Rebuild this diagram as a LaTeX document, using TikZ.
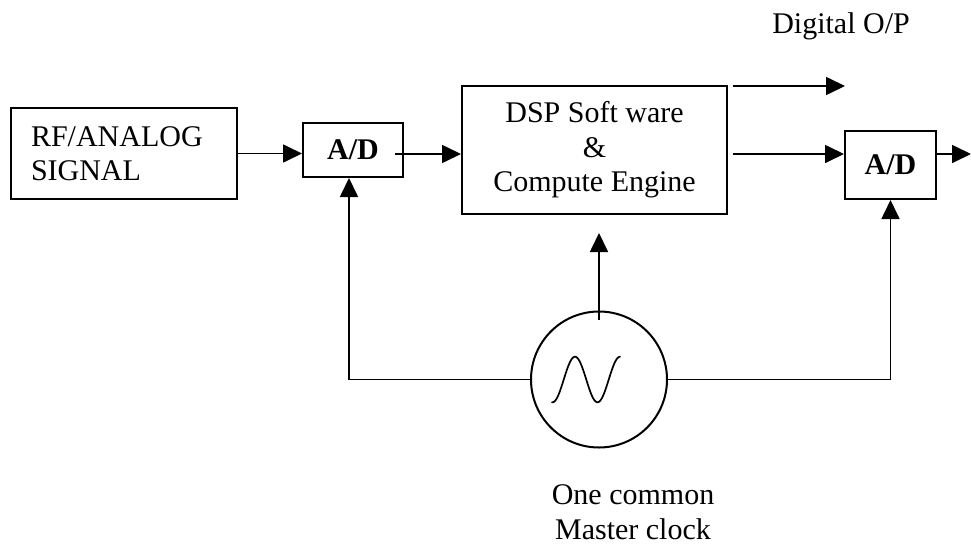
\documentclass[tikz,border=0pt]{standalone}
\usepackage{fontspec}
\setmainfont{Liberation Serif}
\usetikzlibrary{arrows.meta,calc}
\tikzset{
  box/.style={draw, line width=2pt, inner sep=0pt},
  wire/.style={line width=1.7pt},
  arr/.style={line width=1.7pt, -{Triangle[length=19pt,width=18pt]}},
  txt/.style={font=\fontsize{30}{34.5}\selectfont}
}
\begin{document}
\begin{tikzpicture}[x=1pt,y=-1pt]
\useasboundingbox (0,0) rectangle (971,546);
% blocks
\node[box, txt, minimum width=226, minimum height=91, text width=186, inner xsep=20pt, align=left] (rf) at (124,153.5) {RF/ANALOG\\SIGNAL};
\node[box, txt, font=\fontsize{30}{34.5}\selectfont\bfseries, minimum width=100, minimum height=54] (ad1) at (353,150) {A/D};
\node[box, txt, minimum width=265, minimum height=128, align=center] (dsp) at (594.5,150) {DSP Soft ware\\\&\\Compute Engine};
\node[box, txt, font=\fontsize{30}{34.5}\selectfont\bfseries, minimum width=91, minimum height=68] (ad2) at (890.5,165) {A/D};
\node[draw, line width=2pt, circle, minimum size=136, inner sep=0pt] (clk) at (599,379.5) {};
% labels
\node[txt, anchor=base] (dig) at (841,33) {Digital O/P};
\node[txt, align=center] (clklbl) at (633,512) {One common\\Master clock};
% sine symbol
\draw[wire, line cap=round, shift={(clk.center)}] plot[domain=-47:21, samples=80, smooth] (\x, {-22.8*cos(180*(\x+24)/22.5)});
% coordinates for free ends
\coordinate (ad1o) at (395,154);
\coordinate (d1) at (733,86);
\coordinate (d1e) at (845,86);
\coordinate (d2) at (733,154);
\coordinate (out) at (971,154);
\coordinate (ad1in) at ([xshift=-4pt]ad1.south);
% connectors
\draw[arr] (rf.east) -- (rf.east -| ad1.west);
\draw[arr] (ad1o) -- (ad1o -| dsp.west);
\draw[arr] (d1) -- (d1e);
\draw[arr] (d2) -- (d2 -| ad2.west);
\draw[arr] (d2 -| ad2.east) -- (out);
\draw[arr] (clk.west) -| (ad1in);
\draw[arr] (clk.east) -| (ad2.south);
\draw[arr] ($(clk.north)+(0,9)$) -- ($(clk.north |- dsp.south)+(0,18)$);
\end{tikzpicture}
\end{document}
